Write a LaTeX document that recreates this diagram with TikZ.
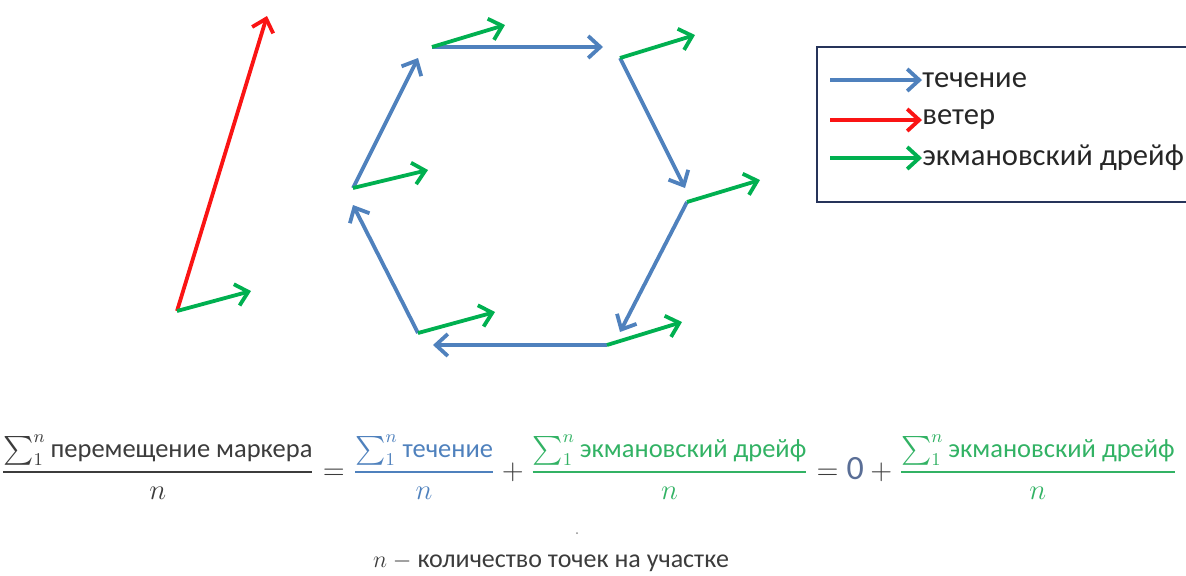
\documentclass[tikz,border=0pt]{standalone}
\usepackage{amsmath}
\usepackage{fontspec}
\setmainfont{Carlito}
\usetikzlibrary{arrows.meta}
\definecolor{tecblue}{RGB}{79,129,189}
\definecolor{windred}{RGB}{250,20,20}
\definecolor{ekgreen}{RGB}{0,176,80}
\definecolor{eqgreen}{RGB}{50,178,100}
\definecolor{eqgray}{RGB}{60,60,60}
\definecolor{zeroblue}{RGB}{90,110,150}
\definecolor{boxnavy}{RGB}{38,52,90}
\newcommand{\ratio}[2]{\genfrac{}{}{0.9pt}{0}{#1}{#2}}
\tikzset{
    vec/.style={line width=1.9pt, -{Straight Barb[length=6pt, width=11pt]}},
    current/.style={vec, draw=tecblue},
    wind/.style={vec, draw=windred},
    ekman/.style={vec, draw=ekgreen},
    legtext/.style={anchor=west, inner sep=0pt, text=black!85, font=\fontsize{15.3}{18}\selectfont},
    eqtext/.style={inner sep=0pt, text=eqgray, font=\fontsize{13.25}{16}\selectfont},
    notetext/.style={inner sep=0pt, text=eqgray, font=\fontsize{13}{16}\selectfont}
}

\begin{document}
\begin{tikzpicture}[x=0.5pt, y=-0.5pt]
    \useasboundingbox (0,0) rectangle (1186,575);
    \clip (0,0) rectangle (1186,575);

    % wind and its drift
    \coordinate (w0) at (177,311);
    \coordinate (w1) at (267,16);
    \coordinate (wd) at (251,291);
    \draw[wind] (w0) -- (w1);
    \draw[ekman] (w0) -- (wd);

    % marker path
    \coordinate (a) at (418,333);
    \coordinate (b) at (353,188);
    \coordinate (c) at (432,47);
    \coordinate (d) at (620,58);
    \coordinate (e) at (687,202);
    \coordinate (f) at (607,345);
    \coordinate (a1) at (353,205);
    \coordinate (b1) at (418,58);
    \coordinate (c1) at (603,47);
    \coordinate (d1) at (685,188);
    \coordinate (e1) at (620,332);
    \coordinate (f1) at (433,345);
    \coordinate (a2) at (495,312);
    \coordinate (b2) at (428,170);
    \coordinate (c2) at (505,25);
    \coordinate (d2) at (695,35);
    \coordinate (e2) at (760,180);
    \coordinate (f2) at (682,322);

    \draw[current] (a) -- (a1);
    \draw[current] (b) -- (b1);
    \draw[current] (c) -- (c1);
    \draw[current] (d) -- (d1);
    \draw[current] (e) -- (e1);
    \draw[current] (f) -- (f1);
    \draw[ekman] (a) -- (a2);
    \draw[ekman] (b) -- (b2);
    \draw[ekman] (c) -- (c2);
    \draw[ekman] (d) -- (d2);
    \draw[ekman] (e) -- (e2);
    \draw[ekman] (f) -- (f2);

    % legend
    \draw[boxnavy, line width=1pt] (817,47) rectangle (1195,202);
    \coordinate (l1) at (830,80);
    \coordinate (l2) at (830,120);
    \coordinate (l3) at (830,158);
    \node[legtext] (t1) at (922,80) {течение};
    \node[legtext] (t2) at (922,120) {ветер};
    \node[legtext] (t3) at (922,158) {экмановский дрейф};
    \draw[current] (l1) -- (t1.west);
    \draw[wind] (l2) -- (t2.west);
    \draw[ekman] (l3) -- (t3.west);

    % formula
    \node[eqtext] (eq) at (589,467) {$\displaystyle
        \ratio{\sum_1^n\text{перемещение маркера}}{n}
        = {\color{tecblue}\ratio{\sum_1^n\text{течение}}{n}}
        + {\color{eqgreen}\ratio{\sum_1^n\text{экмановский дрейф}}{n}}
        = {\color{zeroblue}\text{\fontsize{17}{20}\selectfont 0}}
        + {\color{eqgreen}\ratio{\sum_1^n\text{экмановский дрейф}}{n}}$};
    \fill[black!45] (577,533) circle (1);
    \node[notetext] (note) at (551,563) {$n$ $-$ количество точек на участке};
\end{tikzpicture}
\end{document}
